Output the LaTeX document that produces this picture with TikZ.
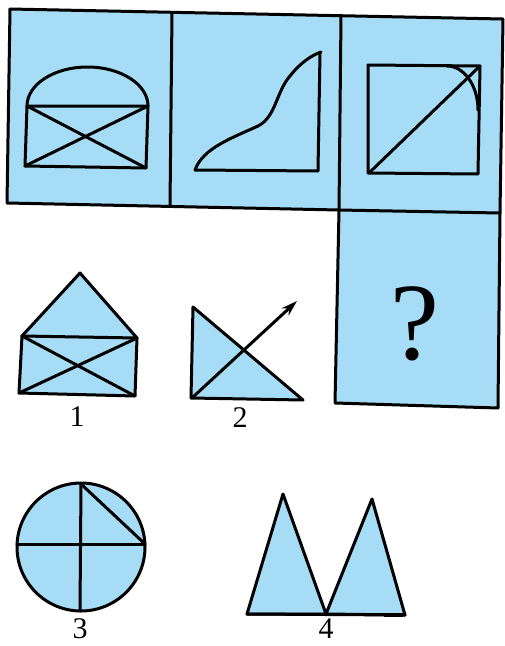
\documentclass[tikz,border=0pt]{standalone}
\usepackage{fontspec}
\setmainfont{Liberation Serif}
\usetikzlibrary{arrows.meta}
\definecolor{panelblue}{RGB}{166,220,245}
\tikzset{
  fig/.style={line width=3pt, line join=round, line cap=round},
  figfill/.style={fig, fill=panelblue},
  lbl/.style={font=\fontsize{30}{30}\selectfont, inner sep=0pt},
}
\begin{document}
\begin{tikzpicture}[x=1pt,y=-1pt]
\useasboundingbox (0,0) rectangle (505,646);
% frame of the series
\fill[panelblue] (10,9) -- (503,19) -- (498,408) -- (335,403) -- (339,210) -- (7,203) -- cycle;
\draw[fig] (10,9) -- (503,19) -- (500,213) -- (339,210) -- (7,203) -- cycle;
\draw[fig] (172,13) -- (170,206);
\draw[fig] (341,16) -- (339,210);
\draw[fig] (339,210) -- (335,403) -- (498,408) -- (500,213);
% panel 1
\draw[fig] (27,106) -- (148,106) -- (146,168) -- (25,166) -- cycle;
\draw[fig] (27,106) -- (146,168);
\draw[fig] (148,106) -- (25,166);
\draw[fig] (27,106) arc[start angle=180, end angle=360, x radius=60.5, y radius=39];
% panel 2
\draw[fig] (195,170) .. controls (203,148) and (232,138) .. (258,126)
  .. controls (276,117) and (276,92) .. (290,76)
  .. controls (300,63) and (312,55) .. (321,52);
\draw[fig] (320,53) -- (318,171) -- (195,170);
% panel 3
\draw[fig] (368,65) -- (480,66) -- (478,174) -- (368,173) -- cycle;
\draw[fig] (370,172) -- (480,66);
\draw[fig] (447,66) arc[start angle=270, end angle=360, x radius=31, y radius=44];
% question mark
\node[inner sep=0pt, font=\fontsize{110}{110}\selectfont] (q) at (415,324) {?};
% option 1
\draw[figfill] (80,273) -- (137,338) -- (135,396) -- (19,393) -- (22,336) -- cycle;
\draw[fig] (22,336) -- (137,338);
\draw[fig] (22,336) -- (135,396);
\draw[fig] (137,338) -- (19,393);
\node[lbl] (l1) at (77,417) {1};
% option 2
\draw[figfill] (193,307) -- (303,400) -- (191,398) -- cycle;
\draw[fig, -{Stealth[length=16pt, width=10pt]}] (193,397) -- (297,301);
\node[lbl] (l2) at (240,418) {2};
% option 3
\draw[figfill] (81,547) circle[radius=64];
\draw[fig] (17,544) -- (145,544);
\draw[fig] (81,484) -- (80,611);
\draw[fig] (81,484) -- (145,544);
\node[lbl] (l3) at (80,629) {3};
% option 4
\draw[figfill] (283,494) -- (326,614) -- (247,614) -- cycle;
\draw[figfill] (372,499) -- (405,615) -- (326,614) -- cycle;
\draw[fig] (247,614) -- (405,615);
\draw[line width=4pt] (384,615) -- (403,615);
\node[lbl] (l4) at (326,629) {4};
\end{tikzpicture}
\end{document}
